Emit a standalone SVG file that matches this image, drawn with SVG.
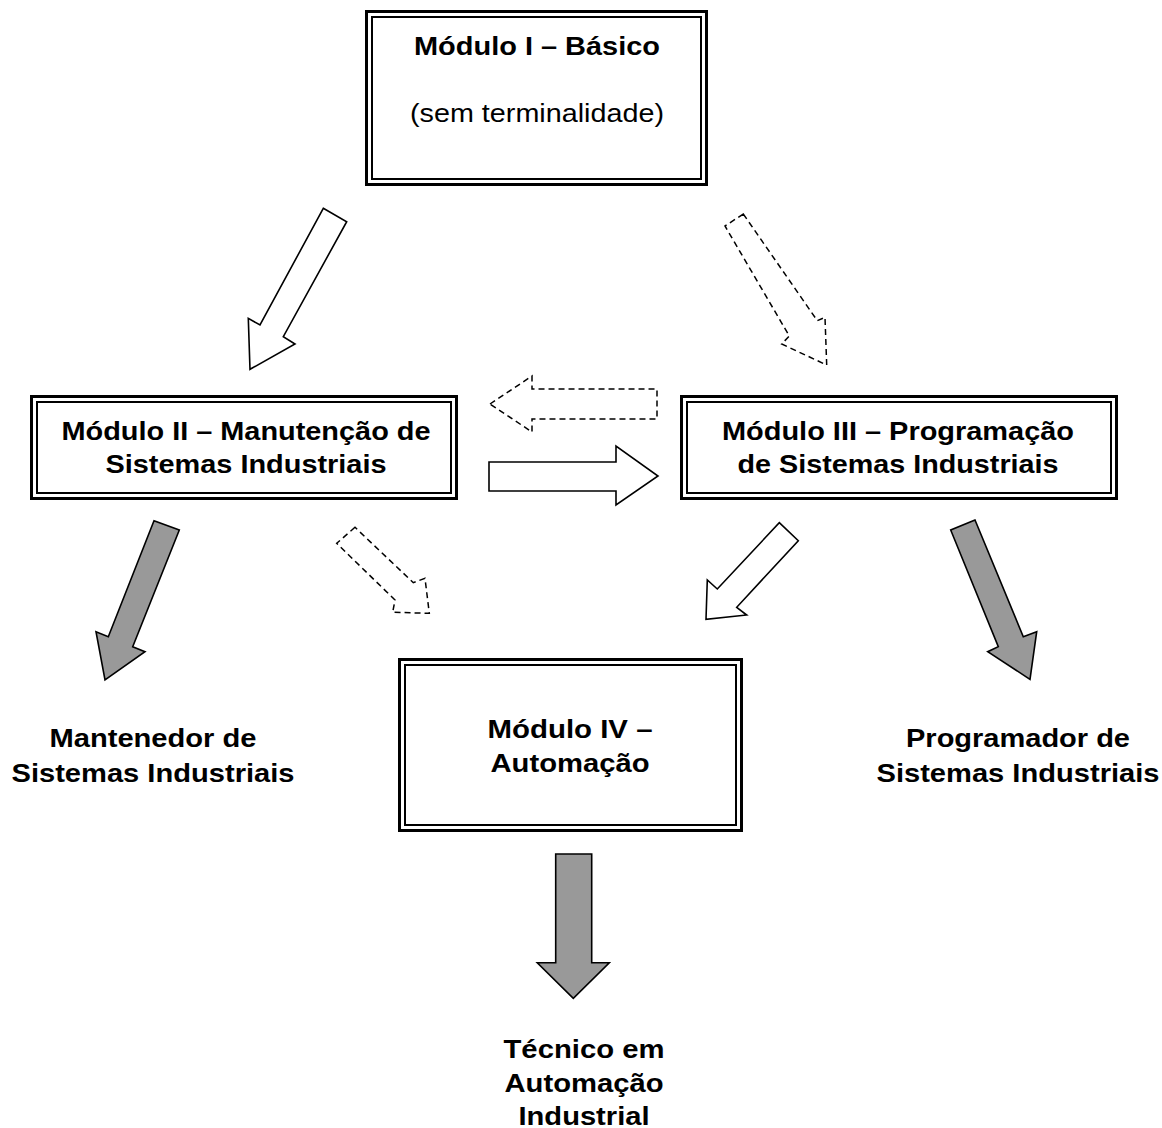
<svg xmlns="http://www.w3.org/2000/svg" width="1162" height="1128" viewBox="0 0 1162 1128">
<style>
.bg{fill:#ffffff}
.outer{fill:#ffffff;stroke:#000;stroke-width:3}
.inner{fill:none;stroke:#000;stroke-width:2}
.t{font-family:"Liberation Sans",Arial,sans-serif;font-size:25.5px;font-weight:bold;fill:#000;text-anchor:middle}
.r{font-weight:normal}
.aw{fill:#fff;stroke:#000;stroke-width:1.6;stroke-linejoin:miter}
.ad{fill:#fff;stroke:#000;stroke-width:1.5;stroke-dasharray:6 4}
.ag{fill:#999999;stroke:#000;stroke-width:1.6}
</style>
<rect class="bg" x="0" y="0" width="1162" height="1128"/>
<g id="connectors">
  <polygon id="a1" class="aw" points="323.3,208.3 346.7,221.7 283.3,336.7 295,344 250,369.3 248.3,318.3 260,325"/>
  <polygon id="a2" class="ad" points="743.3,214 725,226 789.3,336 781.7,344 826.7,365 825,317.3 817.3,320.7"/>
  <polygon id="a3" class="ad" points="490,404 532,376 532,389 657,389 657,419 532,419 532,432"/>
  <polygon id="a4" class="aw" points="489,462 616,462 616,446 658,476 616,505 616,491 489,491"/>
  <polygon id="a5" class="ag" points="154,520.7 179.3,530 132.7,646.7 145,651.7 105,680 96,631.7 108.3,636.7"/>
  <polygon id="a6" class="ad" points="355,527.3 336.7,543.3 395,600 392.7,612.3 429.3,613.3 425,578.3 413.3,582.7"/>
  <polygon id="a7" class="aw" points="779.3,522.7 798.3,540.7 736.7,607.3 746.7,615 706,619.3 707.3,580 717.3,589"/>
  <polygon id="a8" class="ag" points="975,520 950.7,530 998.3,646.7 987.7,651.7 1030,679.3 1036.7,631.7 1023.3,636.7"/>
  <polygon id="a9" class="ag" points="555.7,854 591.7,854 591.7,962.7 609.3,962.7 573.3,998.3 537.3,962.7 555.7,962.7"/>
</g>
<g id="mod1">
  <rect class="outer" x="366.5" y="11.5" width="340" height="173"/>
  <rect class="inner" x="372" y="17" width="329" height="162"/>
  <text class="t" x="537" y="55" textLength="246" lengthAdjust="spacingAndGlyphs">Módulo I – Básico</text>
  <text class="t r" x="537" y="122" textLength="254" lengthAdjust="spacingAndGlyphs">(sem terminalidade)</text>
</g>
<g id="mod2">
  <rect class="outer" x="31.5" y="396.5" width="425" height="102"/>
  <rect class="inner" x="37" y="402" width="414" height="91"/>
  <text class="t" x="246" y="440" textLength="369" lengthAdjust="spacingAndGlyphs">Módulo II – Manutenção de</text>
  <text class="t" x="246" y="473" textLength="281" lengthAdjust="spacingAndGlyphs">Sistemas Industriais</text>
</g>
<g id="mod3">
  <rect class="outer" x="681.5" y="396.5" width="435" height="102"/>
  <rect class="inner" x="687" y="402" width="424" height="91"/>
  <text class="t" x="898" y="440" textLength="352" lengthAdjust="spacingAndGlyphs">Módulo III – Programação</text>
  <text class="t" x="898" y="473" textLength="321" lengthAdjust="spacingAndGlyphs">de Sistemas Industriais</text>
</g>
<g id="mod4">
  <rect class="outer" x="399.5" y="659.5" width="342" height="171"/>
  <rect class="inner" x="405" y="665" width="331" height="160"/>
  <text class="t" x="570" y="738" textLength="165" lengthAdjust="spacingAndGlyphs">Módulo IV –</text>
  <text class="t" x="570" y="772" textLength="159" lengthAdjust="spacingAndGlyphs">Automação</text>
</g>
<g id="out-mantenedor">
  <text class="t" x="153" y="747" textLength="207" lengthAdjust="spacingAndGlyphs">Mantenedor de</text>
  <text class="t" x="153" y="782" textLength="283" lengthAdjust="spacingAndGlyphs">Sistemas Industriais</text>
</g>
<g id="out-programador">
  <text class="t" x="1018" y="747" textLength="224" lengthAdjust="spacingAndGlyphs">Programador de</text>
  <text class="t" x="1018" y="782" textLength="283" lengthAdjust="spacingAndGlyphs">Sistemas Industriais</text>
</g>
<g id="out-tecnico">
  <text class="t" x="584" y="1058" textLength="161" lengthAdjust="spacingAndGlyphs">Técnico em</text>
  <text class="t" x="584" y="1092" textLength="159" lengthAdjust="spacingAndGlyphs">Automação</text>
  <text class="t" x="584" y="1125" textLength="131" lengthAdjust="spacingAndGlyphs">Industrial</text>
</g>
</svg>
